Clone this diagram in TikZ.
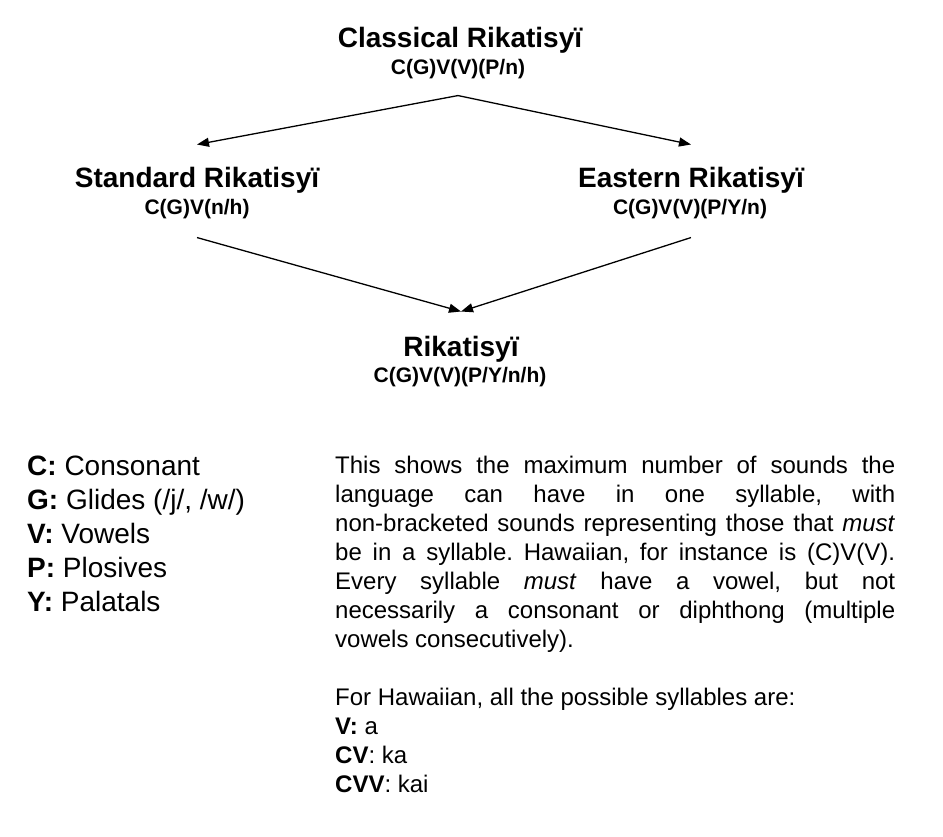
\documentclass[tikz,border=0pt]{standalone}
\usepackage{fontspec}
\setmainfont{Liberation Sans}
\usetikzlibrary{arrows.meta}
\begin{document}
\frenchspacing
\begin{tikzpicture}[x=1pt,y=-1pt,
  ttl/.style={inner sep=0pt,anchor=base,font=\fontsize{28}{32}\selectfont\bfseries},
  sub/.style={inner sep=0pt,anchor=base,font=\fontsize{21}{24}\selectfont\bfseries},
  arr/.style={line width=1.3pt,-{Triangle[length=12pt,width=9pt]}},
  body/.style={inner sep=0pt,anchor=north west,align=left}]
\useasboundingbox[fill=white] (0,0) rectangle (943,836);
% family tree
\node[ttl] (cl) at (460,47) {Classical Rikatisyï};
\node[sub] (cls) at (458,74) {C(G)V(V)(P/n)};
\node[ttl] (st) at (197,187) {Standard Rikatisyï};
\node[sub] (sts) at (197,214) {C(G)V(n/h)};
\node[ttl] (ea) at (691,187) {Eastern Rikatisyï};
\node[sub] (eas) at (690,214) {C(G)V(V)(P/Y/n)};
\node[ttl] (ri) at (461,356) {Rikatisyï};
\node[sub] (ris) at (460,382) {C(G)V(V)(P/Y/n/h)};
\coordinate (clb) at ([yshift=-17pt]cls.south);
\coordinate (stt) at ([yshift=22pt]st.north);
\coordinate (stb) at ([yshift=-19pt]sts.south);
\coordinate (eat) at ([yshift=22pt]ea.north);
\coordinate (eab) at ([yshift=-19pt]eas.south);
\coordinate (rit) at ([yshift=24pt]ri.north);
\draw[arr] (clb) -- (stt -| st);
\draw[arr] (clb) -- (eat -| ea);
\draw[arr] (stb -| st) -- (rit);
\draw[arr] (eab -| ea) -- (rit);
% legend
\node[body,font=\fontsize{28}{34}\selectfont] (leg) at (27,456) {%
\textbf{C:} Consonant\\
\textbf{G:} Glides (/j/, /w/)\\
\textbf{V:} Vowels\\
\textbf{P:} Plosives\\
\textbf{Y:} Palatals};
% explanation
\node[inner sep=0pt,anchor=north west,text width=560pt,align=justify,
  font=\fontsize{24}{29}\selectfont] (expl) at (335,456) {%
\hyphenpenalty=10000 \tolerance=10000 \frenchspacing
This shows the maximum number of sounds the\linebreak
language can have in one syllable, with\linebreak
non-bracketed sounds representing those that \textit{must}\linebreak
be in a syllable. Hawaiian, for instance is (C)V(V).\linebreak
Every syllable \textit{must} have a vowel, but not\linebreak
necessarily a consonant or diphthong (multiple\linebreak
vowels consecutively).};
\node[body,font=\fontsize{24}{29}\selectfont] (haw) at (335,688) {%
For Hawaiian, all the possible syllables are:\\
\textbf{V:} a\\
\textbf{CV}: ka\\
\textbf{CVV}: kai};
\end{tikzpicture}
\end{document}
